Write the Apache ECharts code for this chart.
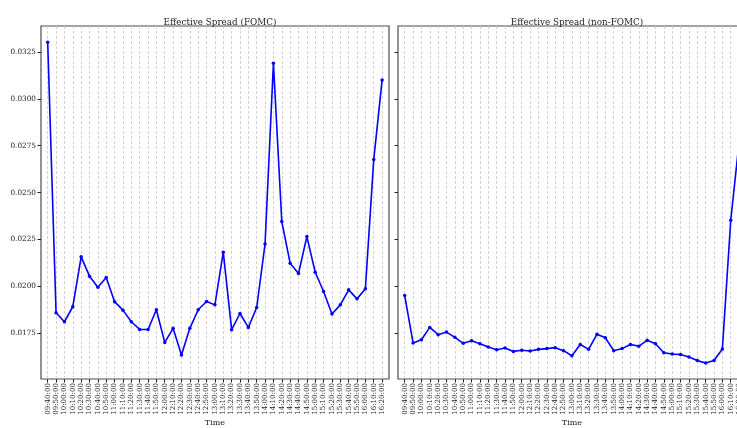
<!DOCTYPE html>
<html>
<head>
<meta charset="utf-8">
<script src="https://cdn.jsdelivr.net/npm/echarts@6/dist/echarts.min.js"></script>
<style>
  html, body { margin: 0; padding: 0; background: #ffffff; overflow: hidden; }
  #chart { width: 737px; height: 428px; }
</style>
</head>
<body>
<div id="chart"></div>
<script>
// Ten-minute buckets of the trading day
const times = [
  '09:40:00','09:50:00','10:00:00','10:10:00','10:20:00','10:30:00','10:40:00','10:50:00',
  '11:00:00','11:10:00','11:20:00','11:30:00','11:40:00','11:50:00','12:00:00','12:10:00',
  '12:20:00','12:30:00','12:40:00','12:50:00','13:00:00','13:10:00','13:20:00','13:30:00',
  '13:40:00','13:50:00','14:00:00','14:10:00','14:20:00','14:30:00','14:40:00','14:50:00',
  '15:00:00','15:10:00','15:20:00','15:30:00','15:40:00','15:50:00','16:00:00','16:10:00',
  '16:20:00'
];

// Mean effective spread on FOMC announcement days
const spreadFomc = [
  0.03302, 0.01860, 0.01812, 0.01892, 0.02158, 0.02055, 0.01996, 0.02048,
  0.01919, 0.01874, 0.01812, 0.01771, 0.01771, 0.01876, 0.01702, 0.01777,
  0.01635, 0.01777, 0.01876, 0.01920, 0.01902, 0.02183, 0.01770, 0.01856,
  0.01782, 0.01888, 0.02227, 0.03190, 0.02346, 0.02124, 0.02069, 0.02266,
  0.02076, 0.01973, 0.01853, 0.01902, 0.01982, 0.01934, 0.01988, 0.02676,
  0.03100
];

// Mean effective spread on all other days
const spreadNonFomc = [
  0.01952, 0.01699, 0.01716, 0.01782, 0.01743, 0.01757, 0.01729, 0.01697,
  0.01711, 0.01695, 0.01677, 0.01663, 0.01672, 0.01654, 0.01660, 0.01656,
  0.01665, 0.01669, 0.01674, 0.01658, 0.01631, 0.01691, 0.01665, 0.01746,
  0.01727, 0.01658, 0.01669, 0.01691, 0.01682, 0.01713, 0.01695, 0.01647,
  0.01640, 0.01637, 0.01624, 0.01605, 0.01592, 0.01606, 0.01667, 0.02353,
  0.02770
];

// Shared y ticks
const yTicks = [0.0175, 0.0200, 0.0225, 0.0250, 0.0275, 0.0300, 0.0325];
const yMin = 0.01507;
const yMax = 0.03388;

const FONT = 'DejaVu Serif';
const TXT = '#222222';
const FRAME = '#4d4d4d';

// Panel geometry: outer frame and the inner plotting band for the points
const panels = [
  { title: 'Effective Spread (FOMC)', frameLeft: 41, showLabels: true, data: spreadFomc },
  { title: 'Effective Spread (non-FOMC)', frameLeft: 398, showLabels: false, data: spreadNonFomc }
];
const plotTop = 26, plotHeight = 353, frameWidth = 348;
const pad = 6.7, innerWidth = 334.4;

const grids = [], xAxes = [], yAxes = [], series = [], titles = [];

panels.forEach((p) => {
  const fi = grids.length;
  // frame grid
  grids.push({
    left: p.frameLeft, top: plotTop, width: frameWidth, height: plotHeight,
    outerBoundsMode: 'none', containLabel: false,
    show: true, borderColor: FRAME, borderWidth: 1.2, backgroundColor: 'transparent'
  });
  xAxes.push({ gridIndex: fi, type: 'value', show: false, min: 0, max: 1 });
  yAxes.push({
    gridIndex: fi, type: 'value', min: yMin, max: yMax,
    axisLine: { show: false },
    splitLine: { show: false },
    axisTick: { show: true, length: 3.5, customValues: yTicks, lineStyle: { color: '#222', width: 1 } },
    axisLabel: {
      show: p.showLabels, customValues: yTicks, margin: 5,
      fontFamily: FONT, fontSize: 7.3, color: TXT,
      formatter: v => v.toFixed(4)
    }
  });

  // data grid
  const di = grids.length;
  grids.push({
    left: p.frameLeft + pad, top: plotTop, width: innerWidth, height: plotHeight,
    outerBoundsMode: 'none', containLabel: false
  });
  xAxes.push({
    gridIndex: di, type: 'category', data: times, boundaryGap: false,
    axisLine: { show: false },
    axisTick: { show: true, length: 3.5, interval: 0, lineStyle: { color: '#222', width: 1 } },
    axisLabel: {
      interval: 0, rotate: 90, margin: 4,
      fontFamily: FONT, fontSize: 7.1, color: TXT
    },
    splitLine: {
      show: true, interval: 0,
      lineStyle: { color: '#c8c8c8', width: 0.8, type: [3, 2] }
    },
    name: 'Time', nameLocation: 'middle', nameGap: 40, nameMoveOverlap: false,
    nameTextStyle: { fontFamily: FONT, fontSize: 8, color: TXT, verticalAlign: 'top' }
  });
  yAxes.push({ gridIndex: di, type: 'value', min: yMin, max: yMax, show: false, splitLine: { show: false } });

  series.push({
    type: 'line', name: p.title,
    xAxisIndex: xAxes.length - 1, yAxisIndex: yAxes.length - 1,
    data: p.data,
    symbol: 'circle', symbolSize: 3.5,
    lineStyle: { color: '#0000ff', width: 1.6 },
    itemStyle: { color: '#0000ff' },
    animation: false
  });

  titles.push({
    text: p.title,
    left: p.frameLeft + frameWidth / 2, top: 13, textAlign: 'center',
    textStyle: { fontFamily: FONT, fontSize: 8.8, fontWeight: 'normal', color: TXT }
  });
});

const chart = echarts.init(document.getElementById('chart'), null, { renderer: 'canvas' });
chart.setOption({
  animation: false,
  backgroundColor: '#ffffff',
  title: titles,
  grid: grids,
  xAxis: xAxes,
  yAxis: yAxes,
  series: series
});
</script>
</body>
</html>
